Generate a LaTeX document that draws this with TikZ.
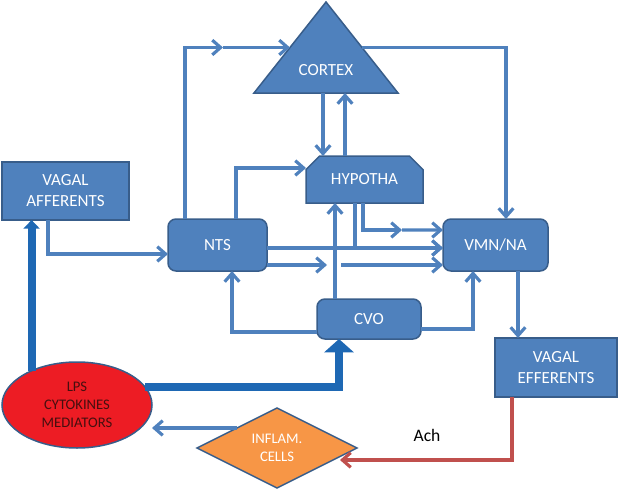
\documentclass[tikz,border=0pt]{standalone}
\usepackage{fontspec}
\setmainfont{Carlito}
\usetikzlibrary{shapes.geometric, shapes.misc, arrows.meta, calc}

\definecolor{boxblue}{RGB}{79,129,189}
\definecolor{boxedge}{RGB}{56,93,138}
\definecolor{fatblue}{RGB}{30,104,180}
\definecolor{lpsred}{RGB}{237,28,36}
\definecolor{lpstext}{RGB}{70,15,15}
\definecolor{cellorange}{RGB}{247,150,70}
\definecolor{achred}{RGB}{192,80,77}

\begin{document}
\begin{tikzpicture}[
    x=0.3mm, y=-0.3mm,
    every node/.style={font=\fontsize{14.5}{18}\selectfont, text=white, align=center},
    box/.style={rectangle, draw=boxedge, line width=0.45mm, fill=boxblue,
                inner sep=0pt, outer sep=0pt},
    rbox/.style={box, rounded corners=2.4mm},
    hbox/.style={box, chamfered rectangle, chamfered rectangle corners={north west, north east},
                 chamfered rectangle xsep=2.4mm, chamfered rectangle ysep=2.4mm},
    tribox/.style={box, isosceles triangle, shape border rotate=90,
                   isosceles triangle stretches},
    lpsnode/.style={ellipse, draw=boxedge, line width=0.45mm, fill=lpsred, text=lpstext,
                    font=\fontsize{12.5}{15.5}\selectfont, inner sep=0pt, outer sep=0pt,
                    minimum width=45mm, minimum height=25.8mm},
    cellnode/.style={diamond, draw=boxedge, line width=0.45mm, fill=cellorange, aspect=2,
                     font=\fontsize{12.5}{15.5}\selectfont, inner sep=0pt, outer sep=0pt,
                     minimum width=48mm, minimum height=24mm},
    achlbl/.style={text=black, font=\fontsize{15}{18}\selectfont},
    arrow/.style={draw=boxblue, line width=0.95mm, -{Straight Barb[length=2.5mm, width=4.4mm]}},
    acharrow/.style={arrow, draw=achred},
    fatarrow/.style={draw=fatblue, line width=2.4mm, -{Triangle[length=4mm, width=8.7mm]}}
  ]
  \useasboundingbox (0,0) rectangle (618,490);

  % Top: cortex and hypothalamus
  \node[tribox, minimum width=43.2mm, minimum height=27.3mm, anchor=lower side] (cortex) at (326,93) {};
  \node (cortexlbl) at (326,70) {CORTEX};
  \node[hbox, minimum width=35.1mm, minimum height=14.1mm] (hyp) at (364.5,179.5) {HYPOTHA};

  % Middle row
  \node[box, minimum width=38.1mm, minimum height=17.4mm] (vaff) at (65.5,191) {VAGAL\\AFFERENTS};
  \node[rbox, minimum width=29.7mm, minimum height=15.6mm] (nts) at (217.5,245) {NTS};
  \node[rbox, minimum width=31.5mm, minimum height=15.6mm] (vmn) at (495.5,245) {VMN/NA};
  \node[rbox, minimum width=31.2mm, minimum height=12mm] (cvo) at (369,319) {CVO};

  % Bottom row
  \node[box, minimum width=36.6mm, minimum height=17.7mm] (veff) at (556,367.5) {VAGAL\\EFFERENTS};
  \node[lpsnode] (lps) at (77,405) {LPS\\CYTOKINES\\MEDIATORS};
  \node[cellnode] (infl) at (277,448) {INFLAM.\\CELLS};
  \node[achlbl] (ach) at (427,435) {Ach};

  % Thick connectors
  \draw[fatarrow] (lps.15) -| ($(cvo.south)+(-30,0)$);
  \draw[fatarrow, -{Triangle[length=2.6mm, width=4.8mm]}] (lps.143) -- (lps.143 |- vaff.south);

  % Connections
  \coordinate (ctxmid) at ($(cortex.left side)+(-67,0)$);
  \coordinate (ntsmid) at ($(nts.east)+(60,20)$);
  \coordinate (hypmid) at ($(hyp.south)+(37.5,27)$);
  \coordinate (celltip) at ($(infl.east)+(-17,12)$);

  \draw[arrow] ($(vaff.south)+(-17.5,0)$) |- ($(nts.west)+(0,9)$);
  \draw[arrow] ($(nts.north)+(-32.5,0)$) |- (ctxmid);
  \draw[arrow] (ctxmid) -- (cortex.left side);
  \draw[arrow] ($(nts.north)+(18.5,0)$) |- ($(hyp.west)+(0,-11.5)$);
  \draw[arrow] ($(cortex.lower side)+(-3,0)$) -- ($(hyp.north)+(-41.5,0)$);
  \draw[arrow] ($(hyp.north)+(-19.5,0)$) -- ($(cortex.lower side)+(19,0)$);
  \draw[arrow] (cortex.right side) -| ($(vmn.north)+(10.5,0)$);

  \draw[arrow] ($(nts.east)+(0,3)$) -- ($(vmn.west)+(0,3)$);
  \draw[arrow] ($(nts.east)+(0,20)$) -- (ntsmid);
  \draw[arrow] ($(ntsmid)+(14,0)$) -- ($(vmn.west)+(0,20)$);
  \draw[arrow] ($(hyp.south)+(-9.5,0)$) |- ($(vmn.west)+(0,3)$);
  \draw[arrow] ($(hyp.south)+(-1.5,0)$) |- (hypmid);
  \draw[arrow] (hypmid) -- ($(vmn.west)+(0,-15)$);

  \draw[arrow] ($(cvo.north)+(-34,0)$) -- ($(hyp.south)+(-29.5,0)$);
  \draw[arrow] ($(cvo.west)+(0,13)$) -| ($(nts.south)+(14.5,0)$);
  \draw[arrow] ($(cvo.east)+(0,10)$) -| ($(vmn.south)+(-22.5,0)$);
  \draw[arrow] ($(vmn.south)+(22.5,0)$) -- ($(veff.north)+(-38,0)$);

  \draw[acharrow] ($(veff.south)+(-44,0)$) |- (celltip);
  \draw[arrow] (infl.north west) -- (infl.north west -| lps.east);

\end{tikzpicture}
\end{document}
